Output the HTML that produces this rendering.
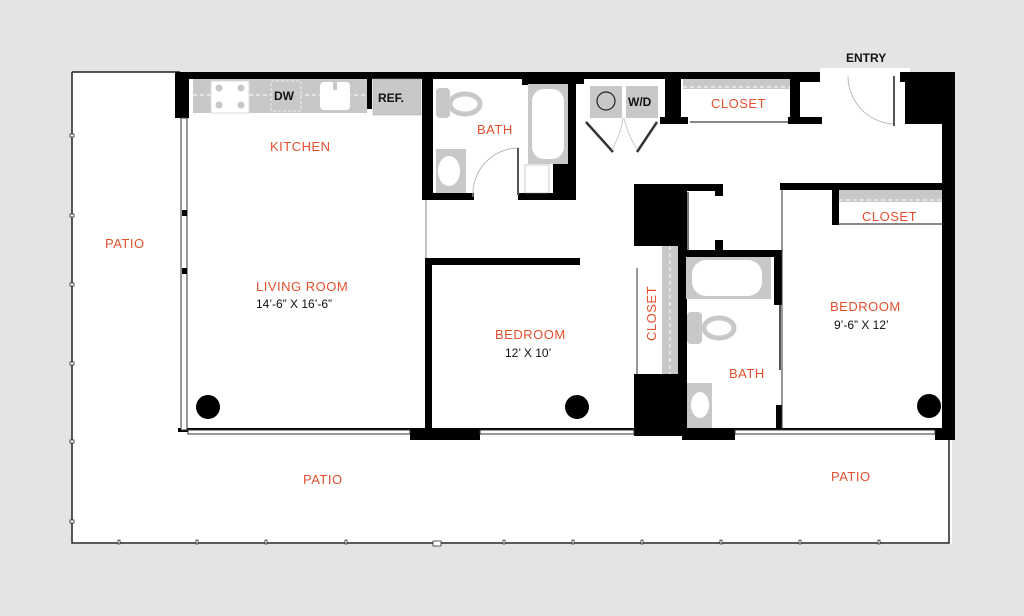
<!DOCTYPE html>
<html><head><meta charset="utf-8"><style>
html,body{margin:0;padding:0;background:#e4e4e4;}
svg{display:block}
.r{font-family:"Liberation Sans",sans-serif;fill:#e4502e;font-size:13px;letter-spacing:0.5px}
.k{font-family:"Liberation Sans",sans-serif;fill:#111;font-size:12px}
</style></head><body>
<svg width="1024" height="616" viewBox="0 0 1024 616" xmlns="http://www.w3.org/2000/svg">
<rect width="1024" height="616" fill="#e4e4e4"/>
<!-- white plan areas -->
<rect x="72" y="72" width="880" height="472" fill="#fff"/>
<rect x="820" y="68" width="90" height="8" fill="#fff"/>
<!-- patio outline -->
<path d="M72 72 H180 M72 72 V543 H949 V438" stroke="#222" stroke-width="1.5" fill="none"/>
<g fill="#fff" stroke="#333" stroke-width="0.8">
<rect x="70" y="134" width="4" height="3"/><rect x="70" y="214" width="4" height="3"/><rect x="70" y="283" width="4" height="3"/><rect x="70" y="362" width="4" height="3"/><rect x="70" y="440" width="4" height="3"/><rect x="70" y="520" width="4" height="3"/>
<rect x="118" y="540" width="2" height="4"/><rect x="196" y="540" width="2" height="4"/><rect x="265" y="540" width="2" height="4"/><rect x="345" y="540" width="2" height="4"/><rect x="503" y="540" width="2" height="4"/><rect x="572" y="540" width="2" height="4"/><rect x="641" y="540" width="2" height="4"/><rect x="720" y="540" width="2" height="4"/><rect x="799" y="540" width="2" height="4"/><rect x="878" y="540" width="2" height="4"/>
<rect x="433" y="541" width="8" height="5"/>
</g>
<!-- black walls -->
<g fill="#000">
<rect x="175" y="72" width="645" height="7"/>
<rect x="175" y="72" width="14" height="46"/>
<rect x="422" y="72" width="11" height="128"/>
<rect x="367" y="79" width="5" height="30"/>
<rect x="432" y="193" width="42" height="7"/>
<rect x="518" y="193" width="58" height="7"/>
<rect x="553" y="79" width="23" height="121"/>
<rect x="522" y="79" width="31" height="6"/>
<rect x="576" y="79" width="8" height="5"/>
<rect x="665" y="72" width="16" height="47"/>
<rect x="660" y="117" width="28" height="7"/>
<rect x="790" y="72" width="10" height="52"/>
<rect x="788" y="117" width="34" height="7"/>
<rect x="800" y="72" width="20" height="10"/>
<rect x="905" y="72" width="40" height="52"/>
<rect x="942" y="72" width="13" height="368"/>
<rect x="900" y="72" width="10" height="10"/>
<!-- bedroom 1 -->
<rect x="425" y="258" width="155" height="7"/>
<rect x="425" y="258" width="7" height="178"/>
<rect x="410" y="428" width="70" height="12"/>
<!-- center column -->
<rect x="634" y="184" width="48" height="62"/>
<rect x="634" y="374" width="50" height="62"/>
<rect x="678" y="184" width="9" height="252"/>
<rect x="682" y="184" width="40" height="7"/>
<rect x="685" y="250" width="97" height="7"/>
<rect x="774" y="250" width="8" height="55"/>
<rect x="715" y="240" width="8" height="12"/>
<rect x="715" y="184" width="8" height="12"/>
<rect x="682" y="428" width="53" height="12"/>
<rect x="776" y="405" width="6" height="27"/>
<!-- bedroom 2 -->
<rect x="780" y="183" width="165" height="7"/>
<rect x="832" y="190" width="7" height="35"/>
<rect x="178" y="428" width="770" height="4"/>
<rect x="935" y="428" width="20" height="12"/>
</g>
<!-- windows -->
<rect x="181" y="118" width="6" height="312" fill="#fff" stroke="#333" stroke-width="1"/>
<rect x="182" y="210" width="5" height="6" fill="#000"/><rect x="182" y="268" width="5" height="6" fill="#000"/>
<g fill="#fff" stroke="#333" stroke-width="1">
<rect x="188" y="430" width="222" height="4"/>
<rect x="480" y="430" width="154" height="4"/>
<rect x="735" y="430" width="200" height="4"/>
</g>
<!-- kitchen counter -->
<rect x="193" y="79" width="174" height="34" fill="#c8c8c8"/>
<line x1="193" y1="95" x2="367" y2="95" stroke="#fff" stroke-dasharray="4,3"/>
<rect x="211" y="81" width="38" height="32" fill="#fff" stroke="#ddd"/>
<circle cx="219" cy="88" r="3.5" fill="#c8c8c8"/><circle cx="241" cy="88" r="3.5" fill="#c8c8c8"/><circle cx="219" cy="105" r="3.5" fill="#c8c8c8"/><circle cx="241" cy="105" r="3.5" fill="#c8c8c8"/>
<rect x="271" y="81" width="30" height="30" fill="#c8c8c8" stroke="#eee" stroke-dasharray="3,2"/>
<text x="274" y="100" class="k" font-weight="bold">DW</text>
<rect x="320" y="82" width="30" height="28" rx="4" fill="#fff"/>
<rect x="333" y="81" width="4" height="9" fill="#c8c8c8"/>
<rect x="373" y="79" width="48" height="36" fill="#c8c8c8" stroke="#aaa" stroke-width="0.5"/>
<text x="378" y="102" class="k" font-weight="bold">REF.</text>
<!-- bath 1 -->
<rect x="436" y="88" width="14" height="30" rx="4" fill="#c8c8c8"/>
<ellipse cx="465" cy="104" rx="15" ry="10" fill="none" stroke="#c8c8c8" stroke-width="5"/>
<rect x="436" y="149" width="30" height="44" fill="#c8c8c8"/>
<ellipse cx="449" cy="171" rx="11" ry="15" fill="#fff"/>
<rect x="528" y="84" width="40" height="80" fill="#c8c8c8"/>
<rect x="532" y="89" width="32" height="70" rx="12" fill="#fff"/>
<rect x="525" y="165" width="24" height="28" fill="#fff" stroke="#999" stroke-width="0.5"/>
<path d="M473 197 A46 46 0 0 1 518 148" fill="none" stroke="#bbb"/>
<line x1="518" y1="148" x2="518" y2="195" stroke="#555" stroke-width="2"/>
<!-- W/D -->
<rect x="590" y="86" width="32" height="32" fill="#c8c8c8"/>
<circle cx="606" cy="101" r="9" fill="none" stroke="#222" stroke-width="1.2"/>
<rect x="626" y="86" width="32" height="32" fill="#c8c8c8"/>
<text x="628" y="106" class="k" font-weight="bold">W/D</text>
<path d="M586 122 L613 152 M657 122 L637 152" stroke="#333" stroke-width="2.5"/>
<path d="M612 150 Q622 130 623 118 M637 150 Q626 130 624 118" stroke="#ccc" fill="none"/>
<!-- closet 1 -->
<rect x="683" y="79" width="107" height="10" fill="#c8c8c8"/>
<line x1="683" y1="87" x2="790" y2="87" stroke="#fff" stroke-dasharray="4,3"/>
<line x1="690" y1="122" x2="788" y2="122" stroke="#888" stroke-width="2"/>
<!-- entry door -->
<path d="M848 76 A48 48 0 0 0 893 124" fill="none" stroke="#bbb"/>
<line x1="894" y1="76" x2="894" y2="126" stroke="#555" stroke-width="2"/>
<!-- closet vertical -->
<rect x="662" y="246" width="16" height="128" fill="#c8c8c8"/>
<line x1="670" y1="246" x2="670" y2="374" stroke="#fff" stroke-dasharray="4,3"/>
<line x1="637" y1="268" x2="637" y2="374" stroke="#777" stroke-width="1.5"/>
<!-- center hallway doors -->
<line x1="688" y1="192" x2="688" y2="250" stroke="#777" stroke-width="2"/>
<!-- bath 2 -->
<rect x="686" y="257" width="85" height="42" fill="#c8c8c8"/>
<rect x="692" y="260" width="70" height="36" rx="14" fill="#fff"/>
<rect x="687" y="312" width="15" height="32" rx="4" fill="#c8c8c8"/>
<ellipse cx="719" cy="328" rx="15" ry="10" fill="none" stroke="#c8c8c8" stroke-width="5"/>
<rect x="687" y="383" width="25" height="45" fill="#c8c8c8"/>
<ellipse cx="700" cy="405" rx="9" ry="13" fill="#fff"/>
<line x1="780" y1="305" x2="780" y2="370" stroke="#555" stroke-width="2"/>
<line x1="782" y1="190" x2="782" y2="430" stroke="#333" stroke-width="1"/>
<!-- closet 2 -->
<rect x="839" y="190" width="103" height="12" fill="#c8c8c8"/>
<line x1="839" y1="200" x2="942" y2="200" stroke="#fff" stroke-dasharray="4,3"/>
<line x1="839" y1="224" x2="942" y2="224" stroke="#888" stroke-width="2"/>
<!-- hallway thin lines -->
<line x1="426" y1="200" x2="426" y2="258" stroke="#888"/>
<!-- columns -->
<circle cx="208" cy="407" r="12" fill="#000"/>
<circle cx="577" cy="407" r="12" fill="#000"/>
<circle cx="929" cy="406" r="12" fill="#000"/>
<!-- labels -->
<text x="846" y="62" class="k" font-weight="bold" font-size="13">ENTRY</text>
<text x="270" y="151" class="r">KITCHEN</text>
<text x="477" y="134" class="r">BATH</text>
<text x="711" y="108" class="r">CLOSET</text>
<text x="862" y="221" class="r">CLOSET</text>
<text x="105" y="248" class="r">PATIO</text>
<text x="256" y="291" class="r">LIVING ROOM</text>
<text x="256" y="308" class="k">14’-6” X 16’-6”</text>
<text x="495" y="339" class="r">BEDROOM</text>
<text x="505" y="357" class="k">12’ X 10’</text>
<text x="656" y="341" class="r" transform="rotate(-90 656 341)">CLOSET</text>
<text x="729" y="378" class="r">BATH</text>
<text x="830" y="311" class="r">BEDROOM</text>
<text x="834" y="329" class="k">9’-6” X 12’</text>
<text x="303" y="484" class="r">PATIO</text>
<text x="831" y="481" class="r">PATIO</text>
</svg>
</body></html>
